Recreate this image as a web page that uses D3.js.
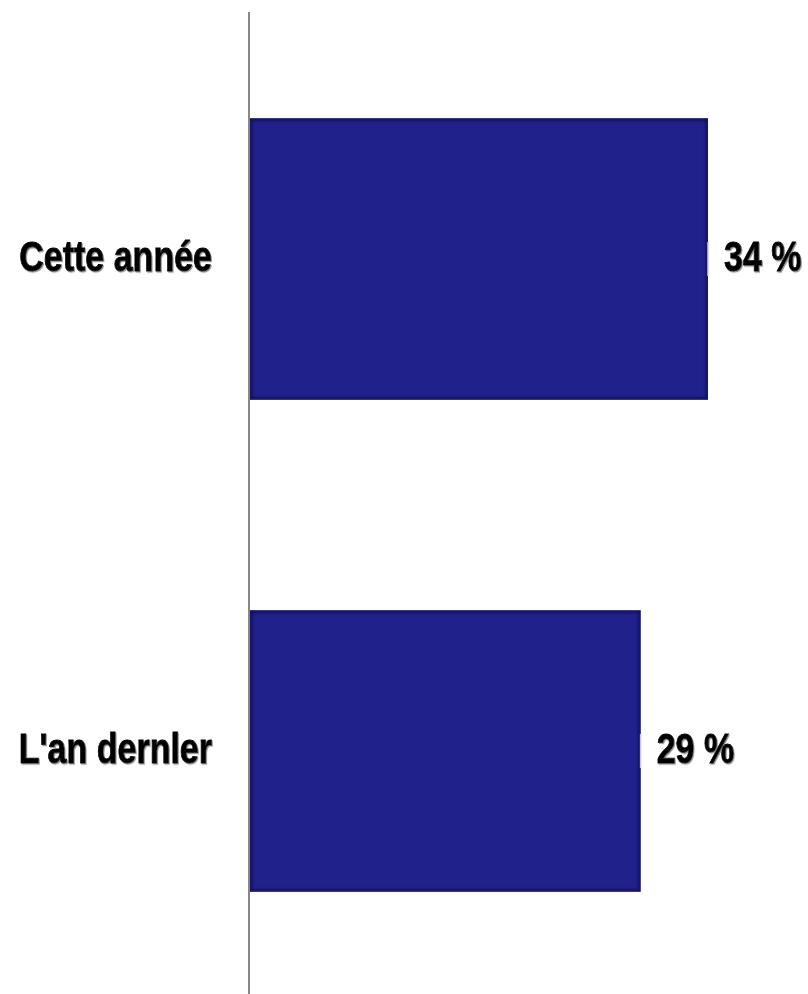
<!DOCTYPE html>
<html><head><meta charset="utf-8">
<script src="https://cdn.jsdelivr.net/npm/d3@7"></script>
<style>
html,body{margin:0;padding:0;background:#fff;}
svg{display:block;}
text{font-family:"Liberation Sans Narrow","Arial Narrow","Liberation Sans",Arial,sans-serif;font-weight:bold;}
</style></head>
<body>
<svg id="chart" width="808" height="994"></svg>
<script>
const categories = ["Cette année", "L'an dernler"];
const values = [34, 29];
const valueLabels = ["34 %", "29 %"];

const svg = d3.select("#chart");
const W = 808, H = 994;

const x = d3.scaleLinear().domain([0, 40]).range([250, 788.8]);
const y = d3.scaleBand().domain(categories).range([13, 997]).paddingInner(0.428).paddingOuter(0.214);

const defs = svg.append("defs");
const blur = defs.append("filter").attr("id", "edgeBlur").attr("x", "-10%").attr("y", "-10%").attr("width", "120%").attr("height", "120%");
blur.append("feGaussianBlur").attr("stdDeviation", 1.6);
const shadow = defs.append("filter").attr("id", "txtShadow").attr("x", "-5%").attr("y", "-5%").attr("width", "115%").attr("height", "120%");
shadow.append("feDropShadow").attr("dx", 1.2).attr("dy", 1.2).attr("stdDeviation", 0.6).attr("flood-color", "#777").attr("flood-opacity", 0.8);

const data = categories.map((c, i) => ({c, v: values[i], label: valueLabels[i], i}));

data.forEach(d => {
  defs.append("clipPath").attr("id", "clip" + d.i)
    .append("rect").attr("x", x(0)).attr("y", y(d.c)).attr("width", x(d.v) - x(0)).attr("height", y.bandwidth());
});

const g = svg.append("g");
const bars = g.selectAll("g.bar").data(data).join("g").attr("class", "bar");
bars.append("rect")
  .attr("x", x(0)).attr("y", d => y(d.c))
  .attr("width", d => x(d.v) - x(0)).attr("height", y.bandwidth())
  .attr("fill", "#21218c");
bars.append("rect")
  .attr("clip-path", d => `url(#clip${d.i})`)
  .attr("x", x(0)).attr("y", d => y(d.c))
  .attr("width", d => x(d.v) - x(0)).attr("height", y.bandwidth())
  .attr("fill", "none").attr("stroke", "#10104a").attr("stroke-width", 4)
  .attr("filter", "url(#edgeBlur)").attr("opacity", 0.8);

// faint tick marks at bar ends near labels
bars.append("line")
  .attr("x1", d => x(d.v)).attr("x2", d => x(d.v))
  .attr("y1", d => y(d.c) + y.bandwidth() / 2 - 17)
  .attr("y2", d => y(d.c) + y.bandwidth() / 2 + 17)
  .attr("stroke", "#c8c8d8").attr("stroke-width", 1.5);

// axis line
const yAxis = d3.axisLeft(y).tickSize(0).tickFormat("");
const ax = svg.append("g").attr("transform", `translate(${x(0) - 1},0)`).call(yAxis);
ax.select(".domain").attr("stroke", "#888").attr("stroke-width", 2).attr("d", `M0,12V${H}`);

const SX = 0.81;

// category labels
svg.selectAll("text.cat").data(data).join("text").attr("class", "cat")
  .attr("transform", d => `translate(212,${y(d.c) + y.bandwidth() / 2 + 12}) scale(${SX},1)`)
  .attr("text-anchor", "end").attr("font-size", 42).attr("fill", "#000")
  .attr("stroke", "#000").attr("stroke-width", 0.8)
  .attr("filter", "url(#txtShadow)")
  .text(d => d.c);

// value labels
svg.selectAll("text.val").data(data).join("text").attr("class", "val")
  .attr("transform", d => `translate(${x(d.v) + 16},${y(d.c) + y.bandwidth() / 2 + 12}) scale(${SX},1)`)
  .attr("text-anchor", "start").attr("font-size", 42).attr("fill", "#000")
  .attr("stroke", "#000").attr("stroke-width", 0.8)
  .attr("filter", "url(#txtShadow)")
  .text(d => d.label);
</script>
</body></html>
